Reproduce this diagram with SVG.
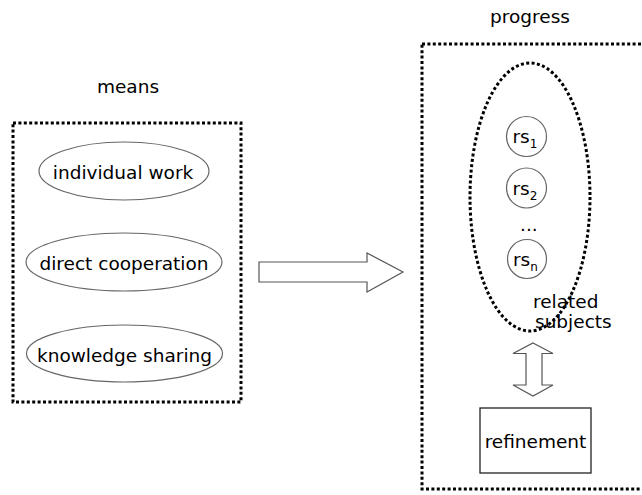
<svg xmlns="http://www.w3.org/2000/svg" width="642" height="495" viewBox="0 0 642 495">
<style>
text{font-family:"DejaVu Sans","Verdana",sans-serif;font-size:18.5px;fill:#000}
.c{text-anchor:middle}
.dot{fill:none;stroke:#000;stroke-width:3;stroke-dasharray:3 2.4}
.oval{fill:#fff;stroke:#666;stroke-width:1.2}
.circ{fill:#fff;stroke:#666;stroke-width:1.2}
.arr{fill:#fff;stroke:#555;stroke-width:1.2}
.sub{font-size:12px}
</style>
<rect width="642" height="495" fill="#fff"/>
<g id="means-group">
<text class="c" x="128" y="93">means</text>
<rect class="dot" x="13" y="123" width="228" height="279"/>
</g>
<g id="individual-work">
<ellipse class="oval" cx="124" cy="171" rx="85" ry="29"/>
<text class="c" x="123" y="179">individual work</text>
</g>
<g id="direct-cooperation">
<ellipse class="oval" cx="124" cy="262" rx="98" ry="29"/>
<text class="c" x="124" y="270">direct cooperation</text>
</g>
<g id="knowledge-sharing">
<ellipse class="oval" cx="124.5" cy="353.5" rx="98" ry="28.5"/>
<text class="c" x="124.5" y="361.5">knowledge sharing</text>
</g>
<g id="progress-group">
<text class="c" x="530" y="23">progress</text>
<rect class="dot" x="422" y="44" width="240" height="445"/>
</g>
<g id="related-subjects">
<ellipse class="dot" cx="530" cy="197" rx="60" ry="134"/>
<text x="533" y="308">related</text>
<text x="535" y="328">subjects</text>
</g>
<g id="rs1">
<circle class="circ" cx="526.5" cy="136.5" r="20"/>
<text x="512.5" y="143">rs<tspan class="sub" dy="5">1</tspan></text>
</g>
<g id="rs2">
<circle class="circ" cx="526.5" cy="188" r="20"/>
<text x="512.5" y="194.5">rs<tspan class="sub" dy="5">2</tspan></text>
</g>
<g id="ellipsis">
<text x="520" y="231">...</text>
</g>
<g id="rsn">
<circle class="circ" cx="527" cy="259" r="19.5"/>
<text x="513" y="265.5">rs<tspan class="sub" dy="5">n</tspan></text>
</g>
<g id="refinement">
<rect x="480" y="408" width="111" height="65" fill="#fff" stroke="#222" stroke-width="1.3"/>
<text class="c" x="535.5" y="448">refinement</text>
</g>
<g id="connectors">
<polygon class="arr" points="259,262 367,262 367,253 403,272 367,292 367,282 259,282"/>
<polygon class="arr" points="533,343 553,353.5 542,353.5 542,385 553,385 533,396 513,385 526,385 526,353.5 513,353.5"/>
</g>
</svg>
